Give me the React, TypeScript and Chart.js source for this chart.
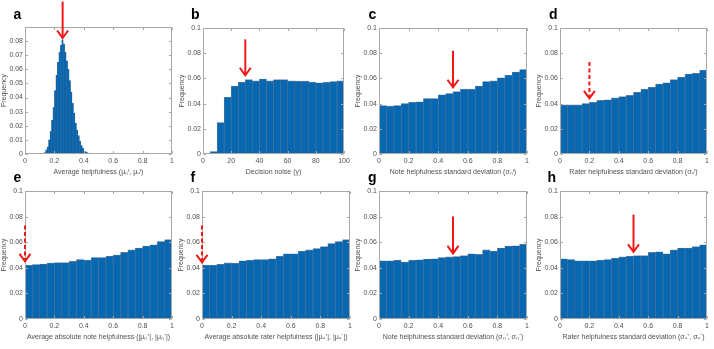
import React, { useEffect, useRef } from "react";
import { Chart, registerables } from "chart.js";
Chart.register(...registerables);

const FONT = "'Liberation Sans', Arial, Helvetica, sans-serif";
const BAR = "#0767B1";
const EDGE = "rgba(0,40,85,0.55)";
const AXIS = "#a8a8a8";
const TXT = "#505050";
const RED = "#f01818";

// ---------- data ----------
const aCenters = [0.135, 0.145, 0.155, 0.165, 0.175, 0.185, 0.195, 0.205, 0.215, 0.225, 0.235, 0.245, 0.255, 0.265, 0.275, 0.285, 0.295, 0.305, 0.315, 0.325, 0.335, 0.345, 0.355, 0.365, 0.375, 0.385, 0.395, 0.405, 0.415, 0.425, 0.435, 0.445, 0.455];
const aFreq = [0.001, 0.003, 0.005, 0.010, 0.016, 0.024, 0.033, 0.045, 0.056, 0.065, 0.072, 0.077, 0.081, 0.078, 0.072, 0.066, 0.060, 0.052, 0.044, 0.036, 0.029, 0.022, 0.017, 0.013, 0.009, 0.006, 0.004, 0.002, 0.0015, 0.001, 0.0005, 0.0003, 0.0002];

const bCenters = [7.5, 12.5, 17.5, 22.5, 27.5, 32.5, 37.5, 42.5, 47.5, 52.5, 57.5, 62.5, 67.5, 72.5, 77.5, 82.5, 87.5, 92.5, 97.5];
const bFreq = [0.002, 0.025, 0.045, 0.054, 0.057, 0.059, 0.058, 0.0595, 0.058, 0.059, 0.059, 0.058, 0.0578, 0.0578, 0.057, 0.0565, 0.0568, 0.0575, 0.058];

const unitCenters = [0.025, 0.075, 0.125, 0.175, 0.225, 0.275, 0.325, 0.375, 0.425, 0.475, 0.525, 0.575, 0.625, 0.675, 0.725, 0.775, 0.825, 0.875, 0.925, 0.975];
const cFreq = [0.0385, 0.038, 0.0385, 0.040, 0.041, 0.0415, 0.044, 0.044, 0.047, 0.048, 0.0495, 0.0515, 0.0515, 0.054, 0.0575, 0.058, 0.0605, 0.0625, 0.065, 0.067];
const dFreq = [0.039, 0.039, 0.039, 0.040, 0.041, 0.0425, 0.043, 0.0445, 0.0455, 0.0465, 0.049, 0.0515, 0.053, 0.0555, 0.0565, 0.059, 0.061, 0.0635, 0.064, 0.0665];
const eFreq = [0.042, 0.0425, 0.043, 0.0437, 0.044, 0.044, 0.045, 0.0465, 0.046, 0.048, 0.048, 0.049, 0.050, 0.052, 0.054, 0.0555, 0.057, 0.058, 0.0605, 0.062];
const fFreq = [0.042, 0.042, 0.0428, 0.0438, 0.0435, 0.0455, 0.046, 0.0465, 0.0465, 0.047, 0.049, 0.051, 0.051, 0.053, 0.054, 0.055, 0.0565, 0.059, 0.0605, 0.062];
const gFreq = [0.0455, 0.0455, 0.046, 0.0445, 0.046, 0.0463, 0.0468, 0.047, 0.048, 0.0485, 0.0488, 0.0495, 0.051, 0.0505, 0.054, 0.053, 0.0555, 0.057, 0.0572, 0.0585];
const hFreq = [0.047, 0.0465, 0.0455, 0.0455, 0.0455, 0.046, 0.0465, 0.0475, 0.0485, 0.049, 0.0495, 0.0495, 0.052, 0.0525, 0.051, 0.054, 0.0555, 0.0555, 0.0565, 0.058];

const panelLetters = ["a", "b", "c", "d", "e", "f", "g", "h"];
const xTitles = [
  "Average helpfulness (μₙᴵ, μᵤᴵ)",
  "Decision noise (γ)",
  "Note helpfulness standard deviation (σₙᴵ)",
  "Rater helpfulness standard deviation (σᵤᴵ)",
  "Average absolute note helpfulness (|μₙ⁺|, |μₙ⁻|)",
  "Average absolute rater helpfulness (|μᵤ⁺|, |μᵤ⁻|)",
  "Note helpfulness standard deviation (σₙ⁺, σₙ⁻)",
  "Rater helpfulness standard deviation (σᵤ⁺, σᵤ⁻)",
];
const yTitle = "Frequency";
const xMax = [1, 100, 1, 1, 1, 1, 1, 1];
const xStep = [0.2, 20, 0.2, 0.2, 0.2, 0.2, 0.2, 0.2];
const yMax = [0.09, 0.1, 0.1, 0.1, 0.1, 0.1, 0.1, 0.1];
const yStep = [0.01, 0.02, 0.02, 0.02, 0.02, 0.02, 0.02, 0.02];
const yLabelMax = [0.08, 0.1, 0.1, 0.1, 0.1, 0.1, 0.1, 0.1];
const arrowX = [0.256, 30, 0.5, 0.2, 0, 0, 0.5, 0.5];
const arrowTop = [0.108, 0.091, 0.082, 0.073, 0.073, 0.073, 0.080, 0.0815];
const arrowTip = [0.0822, 0.0625, 0.053, 0.0442, 0.045, 0.0443, 0.0512, 0.0525];
const arrowDashed = [false, false, false, true, true, true, false, false];

const centersList = [aCenters, bCenters, unitCenters, unitCenters, unitCenters, unitCenters, unitCenters, unitCenters];
const freqList = [aFreq, bFreq, cFreq, dFreq, eFreq, fFreq, gFreq, hFreq];

// ---------- layout (page pixels of plot areas) ----------
const plotBoxes = [
  { L: 25, R: 172, T: 27, B: 154, lx: 13.5, ly: 18.5 },
  { L: 203, R: 344, T: 28, B: 154, lx: 191, ly: 18.5 },
  { L: 379, R: 527, T: 28, B: 154, lx: 368.5, ly: 18.5 },
  { L: 560, R: 707, T: 28, B: 154, lx: 549, ly: 18.5 },
  { L: 25, R: 172, T: 191, B: 319, lx: 13.5, ly: 182 },
  { L: 202, R: 350, T: 191, B: 319, lx: 190.5, ly: 181.5 },
  { L: 379, R: 527, T: 191, B: 319, lx: 368, ly: 182 },
  { L: 560, R: 707, T: 191, B: 319, lx: 547.5, ly: 182 },
];
const YW = 25;
const XH = 22;
const PADT = 30;
const PADR = 10;

const fmt = (v: number) => String(Math.round(Number(v) * 10000) / 10000);

function Panel({ idx }: { idx: number }) {
  const ref = useRef<HTMLCanvasElement>(null);
  const box = plotBoxes[idx];
  const w = YW + (box.R - box.L) + PADR;
  const h = PADT + (box.B - box.T) + XH;
  const left = box.L - YW;
  const top = box.T - PADT;

  useEffect(() => {
    const centers = centersList[idx];
    const freq = freqList[idx];
    const decor = {
      id: "decor" + idx,
      afterDraw(chart: any) {
        const { ctx, chartArea: ca, scales } = chart;
        const xs = scales.x;
        const ys = scales.y;
        ctx.save();
        // axes box with inward ticks
        ctx.strokeStyle = AXIS;
        ctx.lineWidth = 1;
        const l = Math.round(ca.left) + 0.5;
        const r = Math.round(ca.right) - 0.5;
        const t = Math.round(ca.top) + 0.5;
        const b = Math.round(ca.bottom) - 0.5;
        ctx.strokeRect(l, t, r - l, b - t);
        ctx.beginPath();
        xs.ticks.forEach((tk: any) => {
          const px = Math.round(xs.getPixelForValue(tk.value)) + 0.5;
          ctx.moveTo(px, b);
          ctx.lineTo(px, b - 2.5);
          ctx.moveTo(px, t);
          ctx.lineTo(px, t + 2.5);
        });
        ys.ticks.forEach((tk: any) => {
          const py = Math.round(ys.getPixelForValue(tk.value)) + 0.5;
          ctx.moveTo(l, py);
          ctx.lineTo(l + 2.5, py);
          ctx.moveTo(r, py);
          ctx.lineTo(r - 2.5, py);
        });
        ctx.stroke();
        // arrow
        const ax = xs.getPixelForValue(arrowX[idx]);
        const ay0 = ys.getPixelForValue(arrowTop[idx]);
        const ay1 = ys.getPixelForValue(arrowTip[idx]);
        ctx.strokeStyle = RED;
        ctx.lineWidth = 2;
        ctx.lineCap = "butt";
        if (arrowDashed[idx]) ctx.setLineDash([4, 2.5]);
        ctx.beginPath();
        ctx.moveTo(ax, ay0);
        ctx.lineTo(ax, ay1 - 1);
        ctx.stroke();
        ctx.setLineDash([]);
        ctx.beginPath();
        ctx.moveTo(ax - 5.5, ay1 - 7.5);
        ctx.lineTo(ax, ay1);
        ctx.lineTo(ax + 5.5, ay1 - 7.5);
        ctx.stroke();
        // panel letter
        ctx.fillStyle = "#000";
        ctx.font = "bold 14px " + FONT;
        ctx.textBaseline = "alphabetic";
        ctx.textAlign = "left";
        ctx.fillText(panelLetters[idx], box.lx - left, box.ly - top);
        ctx.restore();
      },
    };

    const chart = new Chart(ref.current as HTMLCanvasElement, {
      type: "bar",
      data: {
        datasets: [
          {
            data: centers.map((x, i) => ({ x, y: freq[i] })),
            backgroundColor: BAR,
            borderColor: EDGE,
            borderWidth: idx === 0 ? 0.3 : 0.6,
            borderSkipped: "bottom",
            barPercentage: 1,
            categoryPercentage: 1,
          } as any,
        ],
      },
      options: {
        animation: false,
        responsive: false,
        maintainAspectRatio: false,
        events: [],
        layout: { padding: { left: 0, top: PADT, right: PADR, bottom: 0 } },
        plugins: {
          legend: { display: false },
          tooltip: { enabled: false },
          title: { display: false },
        },
        scales: {
          x: {
            type: "linear",
            min: 0,
            max: xMax[idx],
            offset: false,
            grid: { display: false, drawTicks: false, offset: false },
            border: { display: false },
            ticks: {
              stepSize: xStep[idx],
              maxRotation: 0,
              autoSkip: false,
              padding: 3,
              color: TXT,
              font: { family: FONT, size: 7 },
              callback: (v: any) => fmt(v),
            },
            title: {
              display: true,
              text: xTitles[idx],
              color: TXT,
              font: { family: FONT, size: 7 },
              padding: 0,
            },
            afterFit: (s: any) => {
              s.height = XH;
            },
          } as any,
          y: {
            type: "linear",
            min: 0,
            max: yMax[idx],
            grid: { display: false, drawTicks: false },
            border: { display: false },
            ticks: {
              stepSize: yStep[idx],
              padding: 2,
              color: TXT,
              font: { family: FONT, size: 7 },
              callback: (v: any) => (Number(v) > yLabelMax[idx] + 1e-6 ? "" : fmt(v)),
            },
            title: {
              display: true,
              text: yTitle,
              color: TXT,
              font: { family: FONT, size: 7 },
              padding: 0,
            },
            afterFit: (s: any) => {
              s.width = YW;
            },
          } as any,
        },
      },
      plugins: [decor],
    });
    return () => chart.destroy();
  }, [idx]);

  return (
    <canvas
      ref={ref}
      width={w}
      height={h}
      style={{ position: "absolute", left, top, width: w, height: h, display: "block" }}
    />
  );
}

export default function App() {
  return (
    <div
      style={{
        position: "absolute",
        left: 0,
        top: 0,
        width: 714,
        height: 349,
        overflow: "hidden",
        background: "#fff",
      }}
    >
      {panelLetters.map((_, i) => (
        <Panel key={i} idx={i} />
      ))}
    </div>
  );
}
